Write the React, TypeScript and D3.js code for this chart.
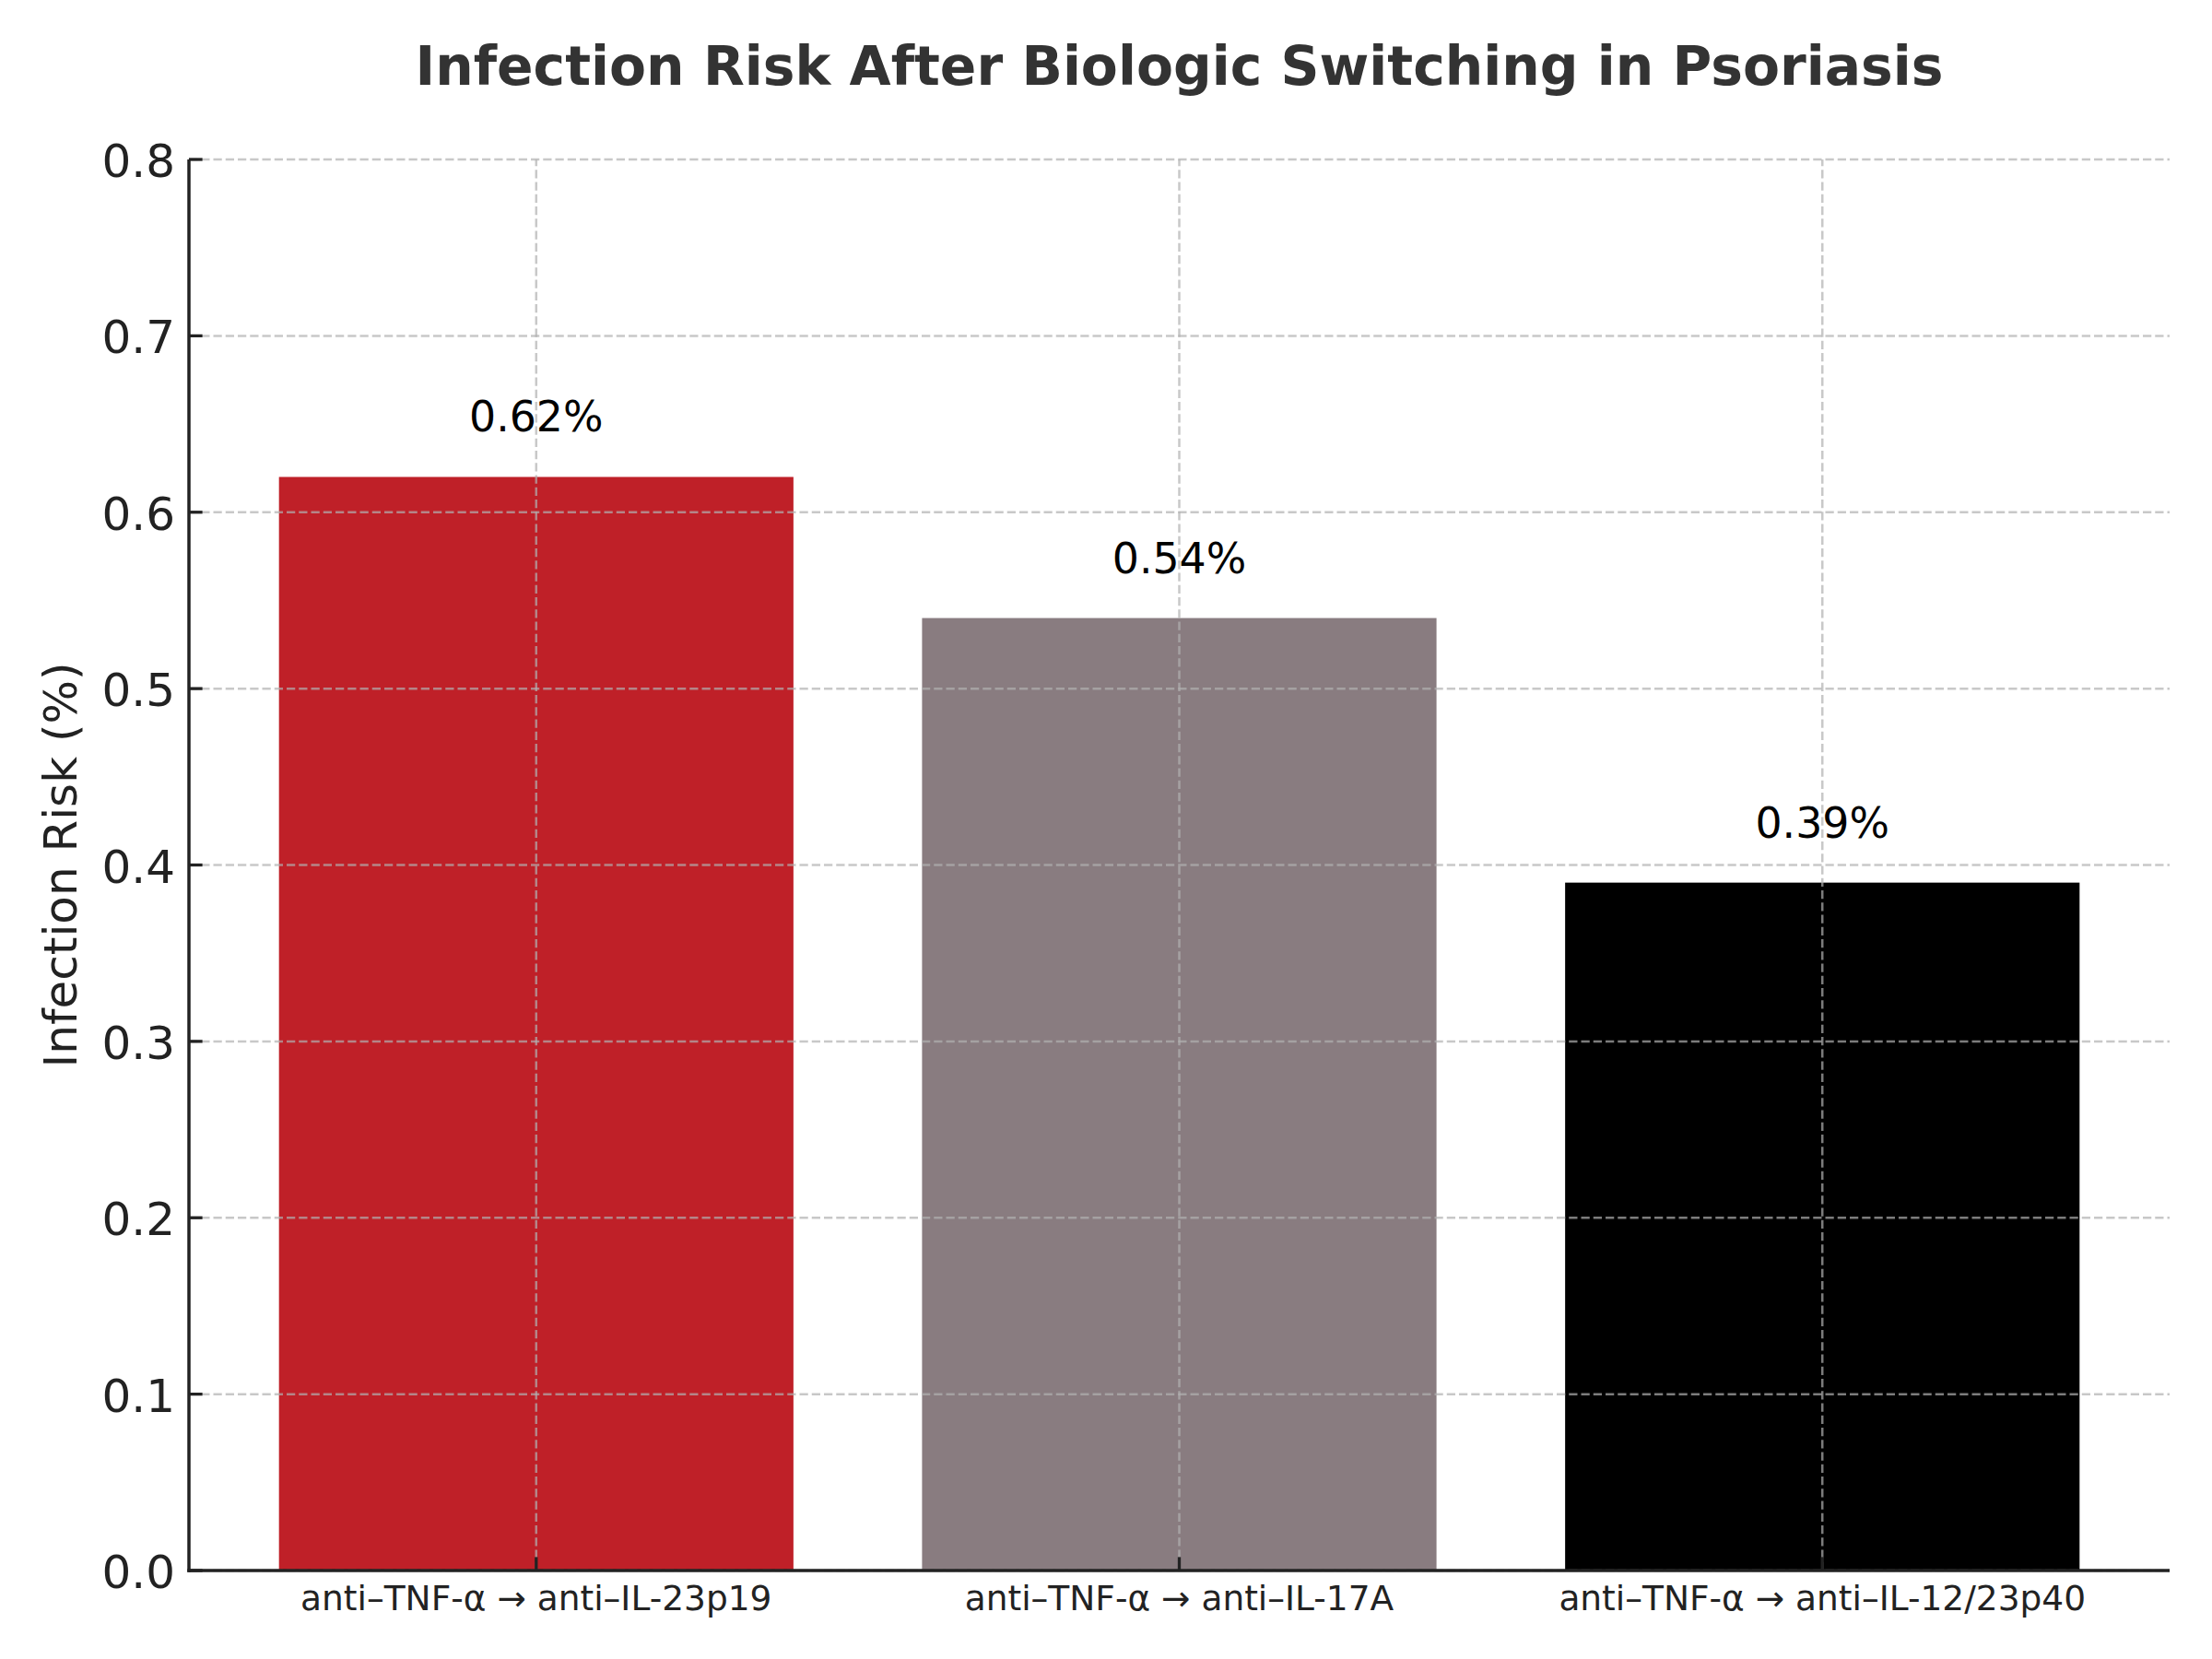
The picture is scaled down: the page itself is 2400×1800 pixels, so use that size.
import React from "react";
import * as d3 from "d3";

const categories = [
  "anti–TNF-α → anti–IL-23p19",
  "anti–TNF-α → anti–IL-17A",
  "anti–TNF-α → anti–IL-12/23p40",
];
const riskValues = [0.62, 0.54, 0.39];
const barColors = ["#BF2028", "#897C80", "#000000"];
const yTicks = [0, 0.1, 0.2, 0.3, 0.4, 0.5, 0.6, 0.7, 0.8];
const titleText = "Infection Risk After Biologic Switching in Psoriasis";
const yLabelText = "Infection Risk (%)";

const W = 2400;
const H = 1800;
const M = { left: 205, right: 2354, top: 173, bottom: 1704 };
const FONT = "'DejaVu Sans', sans-serif";

export default function App() {
  const x = d3
    .scaleBand<string>()
    .domain(categories)
    .range([M.left, M.right])
    .paddingInner(0.2)
    .paddingOuter(0.14);
  const y = d3.scaleLinear().domain([0, 0.8]).range([M.bottom, M.top]);
  const fmt = d3.format(".1f");
  const gridColor = "#b0b0b0";
  const gridOpacity = 0.7;
  const dash = "9.25 4";
  const axisColor = "#222222";

  return (
    <svg
      width={W}
      height={H}
      viewBox={`0 0 ${W} ${H}`}
      style={{ position: "absolute", left: 0, top: 0, background: "#ffffff" }}
      fontFamily={FONT}
    >
      <rect x={0} y={0} width={W} height={H} fill="#ffffff" />
      {/* bars */}
      {categories.map((c, i) => (
        <rect
          key={c}
          x={x(c)}
          y={y(riskValues[i])}
          width={x.bandwidth()}
          height={y(0) - y(riskValues[i])}
          fill={barColors[i]}
        />
      ))}
      {/* grid on top */}
      <g stroke={gridColor} strokeOpacity={gridOpacity} strokeWidth={2.5} strokeDasharray={dash}>
        {yTicks.map((t) => (
          <line key={"gy" + t} x1={M.left} x2={M.right} y1={y(t)} y2={y(t)} />
        ))}
        {categories.map((c) => {
          const cx = (x(c) as number) + x.bandwidth() / 2;
          return <line key={"gx" + c} x1={cx} x2={cx} y1={M.bottom} y2={M.top} />;
        })}
      </g>
      {/* value labels */}
      {categories.map((c, i) => (
        <text
          key={"v" + c}
          x={(x(c) as number) + x.bandwidth() / 2}
          y={y(riskValues[i] + 0.02) - 10.8}
          textAnchor="middle"
          fontSize={45.8}
          fill="#000000"
        >
          {`${riskValues[i].toFixed(2)}%`}
        </text>
      ))}
      {/* y ticks */}
      {yTicks.map((t) => (
        <g key={"yt" + t}>
          <line x1={M.left} x2={M.left + 14.6} y1={y(t)} y2={y(t)} stroke={axisColor} strokeWidth={3.3} />
          <text x={M.left - 15} y={y(t) + 19} textAnchor="end" fontSize={50} fill={axisColor}>
            {fmt(t)}
          </text>
        </g>
      ))}
      {/* x ticks */}
      {categories.map((c) => {
        const cx = (x(c) as number) + x.bandwidth() / 2;
        return (
          <g key={"xt" + c}>
            <line x1={cx} x2={cx} y1={M.bottom} y2={M.bottom - 14.6} stroke={axisColor} strokeWidth={3.3} />
            <text x={cx} y={1747} textAnchor="middle" fontSize={37.5} fill={axisColor}>
              {c}
            </text>
          </g>
        );
      })}
      {/* spines */}
      <line x1={M.left} x2={M.left} y1={M.top} y2={M.bottom + 1.75} stroke={axisColor} strokeWidth={3.5} />
      <line x1={M.left - 1.75} x2={M.right} y1={M.bottom} y2={M.bottom} stroke={axisColor} strokeWidth={3.5} />
      {/* y label */}
      <text
        transform={`translate(83, ${(M.top + M.bottom) / 2}) rotate(-90)`}
        textAnchor="middle"
        fontSize={50}
        fill={axisColor}
      >
        {yLabelText}
      </text>
      {/* title */}
      <text
        x={(M.left + M.right) / 2}
        y={92}
        textAnchor="middle"
        fontSize={58.3}
        fontWeight="bold"
        fill="#333333"
      >
        {titleText}
      </text>
    </svg>
  );
}
